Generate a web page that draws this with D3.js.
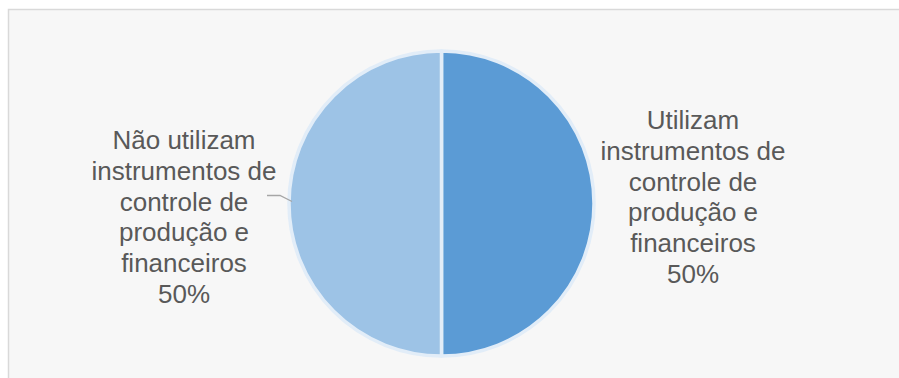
<!DOCTYPE html>
<html><head><meta charset="utf-8">
<script src="https://cdn.jsdelivr.net/npm/d3@7"></script>
<style>html,body{margin:0;padding:0;background:#fff;}svg{display:block;}</style>
</head><body>
<script>
const categories = ["Utilizam instrumentos de controle de produção e financeiros",
                    "Não utilizam instrumentos de controle de produção e financeiros"];
const values = [50, 50];
const labelLines = [
  ["Utilizam", "instrumentos de", "controle de", "produção e", "financeiros", "50%"],
  ["Não utilizam", "instrumentos de", "controle de", "produção e", "financeiros", "50%"]
];
const colors = ["#5b9bd5", "#9dc3e6"];

const W = 899, H = 378;
const svg = d3.select("body").append("svg").attr("width", W).attr("height", H);
svg.append("rect").attr("x", 8.5).attr("y", 9.5).attr("width", W).attr("height", H)
  .attr("fill", "#f7f7f7").attr("stroke", "#d9d9d9").attr("stroke-width", 1.5);

const cx = 441.5, cy = 203.5, r = 152.5;
const g = svg.append("g").attr("transform", `translate(${cx},${cy})`);
const pie = d3.pie().sort(null).value(d => d)(values);
const arc = d3.arc().innerRadius(0).outerRadius(r);
g.selectAll("path").data(pie).join("path")
  .attr("d", arc).attr("fill", (d, i) => colors[i])
  .attr("stroke", "#e2edf8").attr("stroke-width", 3.5).attr("stroke-linejoin", "round");

// labels
const labelPos = [[693, 129.3], [184, 149.3]];
const lh = 30.7;
labelLines.forEach((lines, i) => {
  const t = svg.append("text").attr("text-anchor", "middle")
    .attr("font-family", "Liberation Sans, Arial, sans-serif").attr("font-size", 26)
    .attr("fill", "#595959");
  lines.forEach((ln, j) => {
    t.append("tspan").attr("x", labelPos[i][0]).attr("y", labelPos[i][1] + j * lh).text(ln);
  });
});

// leader line for left label
const mid = pie[1];
const a = (mid.startAngle + mid.endAngle) / 2;
const edge = [cx + Math.sin(a) * (r - 1), cy - Math.cos(a) * (r - 1)];
svg.append("path")
  .attr("d", `M267,195.5 L280,195.5 L${edge[0] + 2},${edge[1] - 2}`)
  .attr("fill", "none").attr("stroke", "#a6a6a6").attr("stroke-width", 1.3);
</script>
</body></html>
